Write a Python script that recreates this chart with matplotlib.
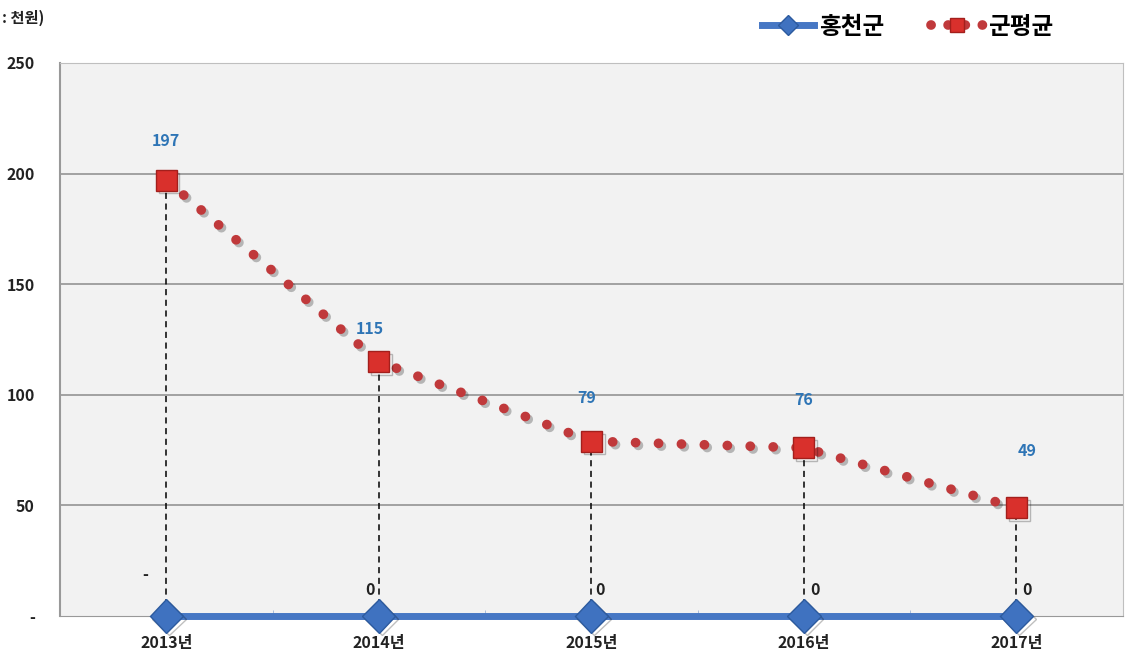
import matplotlib.pyplot as plt
import matplotlib.patheffects as pe
import numpy as np

plt.rcParams['font.family'] = ['Noto Sans CJK KR', 'DejaVu Sans']

# 데이터
years = ['2013년', '2014년', '2015년', '2016년', '2017년']
hongcheon = [0, 0, 0, 0, 0]
hongcheon_labels = ['-', '0', '0', '0', '0']
gun_avg = [197, 115, 79, 76, 49]
y_ticks = [0, 50, 100, 150, 200, 250]
y_tick_labels = ['-', '50', '100', '150', '200', '250']

x = np.arange(len(years))

fig = plt.figure(figsize=(11.25, 6.69), dpi=100)
ax = fig.add_axes([0.0533, 0.0792, 0.9447, 0.8268])
ax.set_facecolor('#F2F2F2')
ax.set_xlim(-0.5, len(years) - 0.5)
ax.set_ylim(0, 250)

# 격자선
ax.set_yticks(y_ticks)
ax.set_yticklabels(y_tick_labels, fontsize=11.5, fontweight='bold', color='#222222')
for t in y_ticks[1:-1]:
    ax.axhline(t, color='#8C8C8C', lw=1.1, zorder=1)
ax.tick_params(axis='y', length=0, pad=18)

ax.set_xticks(x)
ax.set_xticklabels(years, fontsize=11.5, fontweight='bold', color='#222222')
ax.set_xticks(np.arange(-0.5, len(years)), minor=True)
ax.tick_params(axis='x', which='major', length=0, pad=14)
ax.tick_params(axis='x', which='minor', length=4, direction='in', color='#9DB3D6')

for side in ['top', 'right']:
    ax.spines[side].set_color('#BFBFBF')
ax.spines['left'].set_color('#999999')
ax.spines['left'].set_linewidth(1.5)
ax.spines['bottom'].set_color('#999999')

# 수직 점선
for xi, v in zip(x, gun_avg):
    ax.plot([xi, xi], [0, v], color='black', lw=1.1, ls=(0, (4, 3)), zorder=2)

shadow = [pe.SimpleLineShadow(offset=(2, -2), alpha=0.25), pe.Normal()]

# 군평균
ax.plot(x, gun_avg, color='#C0393B', lw=7, ls=(0, (0.01, 2.35)),
        solid_capstyle='round', dash_capstyle='round', zorder=3,
        path_effects=shadow)
ax.plot(x, gun_avg, ls='none', marker='s', markersize=15, color='#D9302C',
        markeredgecolor='#A31F1C', markeredgewidth=1, zorder=5,
        path_effects=shadow)

# 홍천군
ax.plot(x, hongcheon, color='#4677C4', lw=5, zorder=4, clip_on=False,
        solid_capstyle='butt')
ax.plot(x, hongcheon, ls='none', marker='D', markersize=17, color='#3F72C0',
        markeredgecolor='#2C5A9E', markeredgewidth=1, zorder=6, clip_on=False,
        path_effects=shadow)

# 데이터 레이블
avg_offsets = [(0, 14), (-0.04, 11), (-0.02, 16), (0, 18), (0.05, 22)]
for xi, v, (dx, dy) in zip(x, gun_avg, avg_offsets):
    ax.text(xi + dx, v + dy, str(v), ha='center', va='bottom', fontsize=11.5,
            fontweight='bold', color='#2E75B6', zorder=7)

hc_offsets = [(-0.1, 15), (-0.04, 8), (0.04, 8), (0.05, 8), (0.05, 8)]
for xi, v, lab, (dx, dy) in zip(x, hongcheon, hongcheon_labels, hc_offsets):
    ax.text(xi + dx, v + dy, lab, ha='center', va='bottom', fontsize=11.5,
            fontweight='bold', color='#222222', zorder=7)

# 단위
fig.text(0.002, 0.985, ': 천원)', ha='left', va='top', fontsize=11,
         fontweight='bold', color='#222222')

# 범례
h1, = ax.plot([], [], color='#4677C4', lw=5, marker='D', markersize=10,
              markerfacecolor='#3F72C0', markeredgecolor='#2C5A9E')
h2, = ax.plot([], [], color='#C0393B', lw=7, ls=(0, (0.01, 1.75)),
              dash_capstyle='round', marker='s', markersize=10,
              markerfacecolor='#D9302C', markeredgecolor='#A31F1C')
fig.legend([h1, h2], ['홍천군', '군평균'], loc='upper right',
           bbox_to_anchor=(0.955, 1.01), ncol=2, frameon=False,
           prop={'size': 17, 'weight': 'bold'}, handlelength=2.2,
           handletextpad=0.2, columnspacing=2.0)

fig.savefig('out.png', dpi=100)
